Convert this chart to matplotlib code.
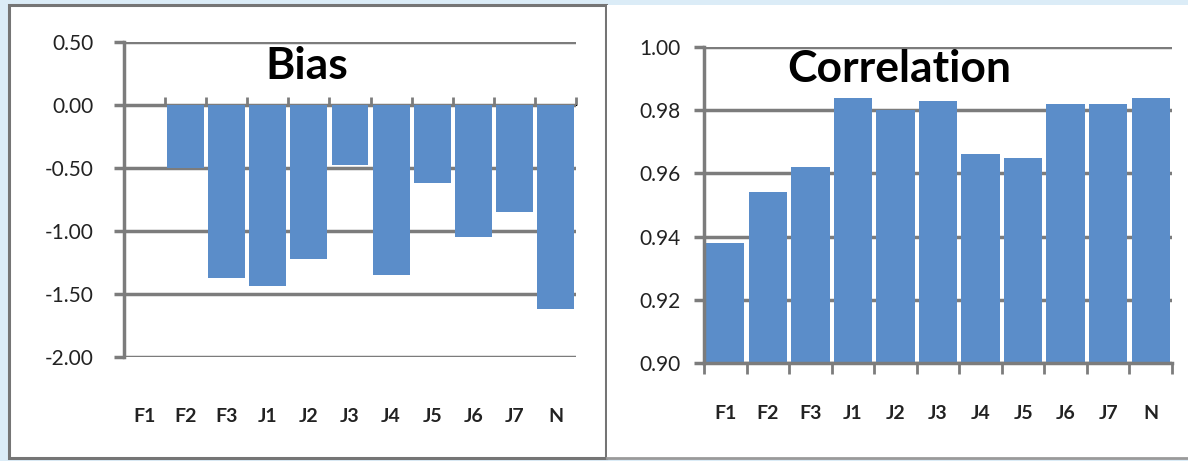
"""Bias and correlation bar panels for the F/J/N model runs."""

import matplotlib
matplotlib.use("Agg")
import matplotlib.pyplot as plt
from matplotlib.patches import Rectangle
import numpy as np


CATEGORIES = ["F1", "F2", "F3", "J1", "J2", "J3", "J4", "J5", "J6", "J7", "N"]
BIAS = [0.0, -0.50, -1.37, -1.44, -1.22, -0.48, -1.35, -0.62, -1.05, -0.85, -1.62]
CORRELATION = [0.938, 0.954, 0.962, 0.984, 0.980, 0.983, 0.966, 0.965, 0.982, 0.982, 0.984]

BIAS_TICKS = [0.50, 0.00, -0.50, -1.00, -1.50, -2.00]
CORR_TICKS = [0.90, 0.92, 0.94, 0.96, 0.98, 1.00]

BAR_COLOR = "#5b8dc9"
GRID_COLOR = "#7c7c7c"
TEXT_COLOR = "#222222"
BACKGROUND = "#dbecf7"
LW = 2.5

plt.rcParams["font.family"] = ["Lato", "DejaVu Sans"]

W, H = 1188, 461
fig = plt.figure(figsize=(W / 100, H / 100), dpi=100)
fig.patch.set_facecolor(BACKGROUND)


def px_rect(x0, y0, x1, y1):
    """Convert a pixel box (top-left origin) to figure fractions."""
    return [x0 / W, 1 - y1 / H, (x1 - x0) / W, (y1 - y0) / H]


# white panels behind each chart
left_box = px_rect(9, 5, 606, 458)
fig.patches.append(Rectangle((left_box[0], left_box[1]), left_box[2], left_box[3],
                             transform=fig.transFigure, facecolor="white",
                             edgecolor="#757575", linewidth=2.2, zorder=-10))
right_box = px_rect(607, 5, 1188, 458)
fig.patches.append(Rectangle((right_box[0], right_box[1]), right_box[2], right_box[3],
                             transform=fig.transFigure, facecolor="white",
                             edgecolor="none", zorder=-10))
fig.lines.append(plt.Line2D([607 / W, 1], [1 - 458 / H] * 2, transform=fig.transFigure,
                            color="#9a9a9a", linewidth=2, zorder=-5))


def style_axes(ax, yticks, ypad):
    x = np.arange(len(CATEGORIES))
    ax.set_facecolor("none")
    ax.set_xlim(-0.5, len(CATEGORIES) - 0.5)
    ax.set_yticks(yticks)
    ax.set_yticklabels(["{:.2f}".format(v) for v in yticks])
    ax.yaxis.grid(True, color=GRID_COLOR, linewidth=LW)
    ax.set_axisbelow(True)
    for side in ["top", "right", "bottom"]:
        ax.spines[side].set_visible(False)
    ax.spines["left"].set_color(GRID_COLOR)
    ax.spines["left"].set_linewidth(LW)
    ax.tick_params(axis="y", direction="out", length=7, width=LW, color=GRID_COLOR,
                   pad=ypad, labelsize=15, labelcolor=TEXT_COLOR)
    ax.set_xticks(x)
    ax.set_xticklabels(CATEGORIES)
    ax.tick_params(axis="x", length=0, pad=37, labelsize=14, labelcolor=TEXT_COLOR)
    for lab in ax.get_xticklabels():
        lab.set_fontweight("bold")
    return x


# Bias panel
ax1 = fig.add_axes(px_rect(124, 42, 576, 357))
x = style_axes(ax1, BIAS_TICKS, ypad=15)
ax1.set_ylim(-2.0, 0.5)
ax1.bar(x, BIAS, width=0.9, color=BAR_COLOR, zorder=2)
# horizontal axis crosses at zero with boundary ticks
zero_axis = ax1.secondary_xaxis(0.8)
zero_axis.set_xticks(np.arange(len(CATEGORIES) + 1) - 0.5)
zero_axis.set_xticklabels([])
zero_axis.tick_params(direction="out", length=6, width=2, color=GRID_COLOR)
zero_axis.spines["bottom"].set_color(GRID_COLOR)
zero_axis.spines["bottom"].set_linewidth(LW)
ax1.text(0.405, 0.925, "Bias", transform=ax1.transAxes, ha="center", va="center",
         fontsize=32, fontweight="bold", color="black", zorder=5)

# Correlation panel
ax2 = fig.add_axes(px_rect(704, 47, 1172, 363))
x = style_axes(ax2, CORR_TICKS, ypad=10)
ax2.set_ylim(0.90, 1.00)
ax2.bar(x, CORRELATION, width=0.9, color=BAR_COLOR, zorder=2)
ax2.set_xticks(np.arange(len(CATEGORIES) + 1) - 0.5, minor=True)
ax2.tick_params(axis="x", which="minor", direction="out", length=8, width=2,
                color=GRID_COLOR)
ax2.spines["bottom"].set_visible(True)
ax2.spines["bottom"].set_color(GRID_COLOR)
ax2.spines["bottom"].set_linewidth(LW)
ax2.tick_params(axis="x", which="major", pad=30)
ax2.text(0.417, 0.93, "Correlation", transform=ax2.transAxes, ha="center", va="center",
         fontsize=32, fontweight="bold", color="black", zorder=5)

fig.savefig("out.png", dpi=100, facecolor=fig.get_facecolor())
